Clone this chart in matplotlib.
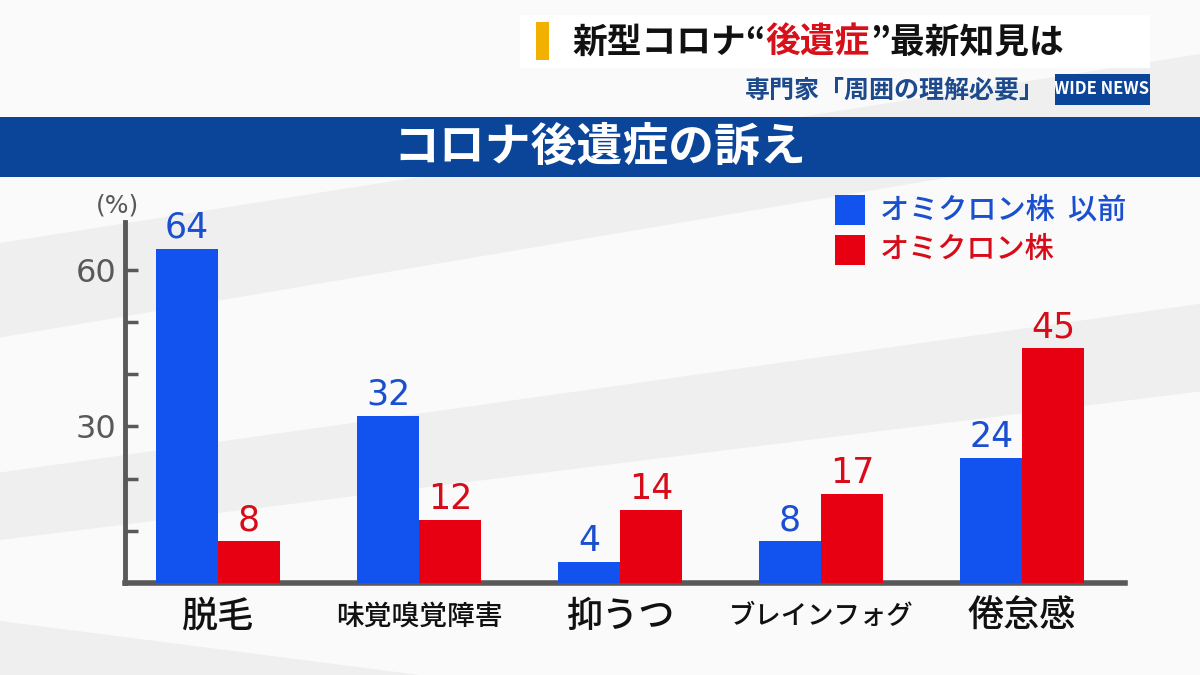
import numpy as np
import matplotlib
matplotlib.use("Agg")
import matplotlib.pyplot as plt
from matplotlib.patches import Rectangle, Polygon

plt.rcParams['font.family'] = ['Noto Sans CJK JP', 'DejaVu Sans']

# data
categories = ["脱毛", "味覚嗅覚障害", "抑うつ", "ブレインフォグ", "倦怠感"]
before_omicron = [64, 32, 4, 8, 24]
omicron = [8, 12, 14, 17, 45]
series_names = ["オミクロン株  以前", "オミクロン株"]
y_ticks_major = [30, 60]

BLUE = "#1252ee"
RED = "#e60012"
BLUE_TXT = "#1a4fd0"
RED_TXT = "#d70c18"
NAVY = "#0b4599"
GRAY = "#595959"

fig = plt.figure(figsize=(12, 6.75), dpi=100)
fig.patch.set_facecolor("#fafafa")

# soft diagonal streaks in the background
streaks = [
    [(0, 0.50), (1, 0.80), (1, 0.92), (0, 0.64)],
    [(0, 0.20), (1, 0.42), (1, 0.55), (0, 0.30)],
    [(0.0, 0.0), (0.35, 0.0), (0, 0.08)],
]
for pts in streaks:
    fig.patches.append(Polygon(pts, closed=True, transform=fig.transFigure,
                               facecolor="#ebebeb", edgecolor="none", alpha=0.7, zorder=-5))

# header box
fig.patches.append(Rectangle((520 / 1200, 1 - 68 / 675), 630 / 1200, 53 / 675,
                             transform=fig.transFigure, facecolor="white", edgecolor="none", zorder=1))
fig.patches.append(Rectangle((536 / 1200, 1 - 60 / 675), 13 / 1200, 38 / 675,
                             transform=fig.transFigure, facecolor="#f2b100", edgecolor="none", zorder=2))
hy = 1 - 42 / 675
t1 = fig.text(572 / 1200, hy, "新型コロナ“", fontsize=25, fontweight="bold", color="#111111",
              va="center", ha="left")
fig.canvas.draw()
r = fig.canvas.get_renderer()
x = t1.get_window_extent(r).x1 / 1200
t2 = fig.text(x, hy, "後遺症", fontsize=25, fontweight="bold", color="#d7101a", va="center", ha="left")
x = t2.get_window_extent(r).x1 / 1200
fig.text(x, hy, "”最新知見は", fontsize=25, fontweight="bold", color="#111111", va="center", ha="left")

fig.text(1045 / 1200, 1 - 90 / 675, "専門家「周囲の理解必要」", fontsize=18, fontweight="bold",
         color="#1d4a8c", va="center", ha="right")
fig.patches.append(Rectangle((1055 / 1200, 1 - 105 / 675), 95 / 1200, 31 / 675,
                             transform=fig.transFigure, facecolor=NAVY, edgecolor="none", zorder=1))
fig.text(1102 / 1200, 1 - 89.5 / 675, "WIDE NEWS", fontsize=12, fontweight="bold", color="white",
         va="center", ha="center", fontstretch="condensed")

# title bar
fig.patches.append(Rectangle((0, 1 - 177 / 675), 1, 60 / 675, transform=fig.transFigure,
                             facecolor=NAVY, edgecolor="none", zorder=1))
fig.text(0.5, 1 - 148 / 675, "コロナ後遺症の訴え", fontsize=33, fontweight="bold", color="white",
         va="center", ha="center")

# chart
ax = fig.add_axes([125 / 1200, 92 / 675, 1000 / 1200, 361 / 675])
ax.set_zorder(5)
ax.set_facecolor("none")
idx = np.arange(len(categories))
w = 0.308
ax.bar(idx - w / 2, before_omicron, w, color=BLUE, zorder=3)
ax.bar(idx + w / 2, omicron, w, color=RED, zorder=3)

for i in idx:
    ax.text(i - w / 2, before_omicron[i] + 0.8, str(before_omicron[i]), ha="center", va="bottom",
            fontsize=25, color=BLUE_TXT, family="DejaVu Sans")
    ax.text(i + w / 2, omicron[i] + 0.8, str(omicron[i]), ha="center", va="bottom",
            fontsize=25, color=RED_TXT, family="DejaVu Sans")

ax.set_xlim(-0.463, 4.512)
ax.set_ylim(0, 69.2)
ax.set_yticks(np.arange(10, 61, 10))
ax.set_yticklabels(["" if v not in y_ticks_major else str(v) for v in range(10, 61, 10)],
                   fontsize=23, color=GRAY, family="DejaVu Sans")
ax.tick_params(axis="y", direction="in", length=9, width=2.5, color=GRAY, pad=6)
ax.set_xticks(idx)
ax.set_xticklabels([])
ax.tick_params(axis="x", length=0)

for s in ["top", "right"]:
    ax.spines[s].set_visible(False)
ax.spines["left"].set_color(GRAY)
ax.spines["left"].set_linewidth(3.5)
ax.spines["bottom"].set_color(GRAY)
ax.spines["bottom"].set_linewidth(4)

# category labels (some are condensed in the original)
label_sizes = [26, 20, 26, 19, 26]
for i, lab in enumerate(categories):
    ax.text(i, -6.5, lab, ha="center", va="center", fontsize=label_sizes[i],
            fontweight="medium", color="#111111")

fig.text(117 / 1200, 1 - 205 / 675, "(%)", fontsize=18, color=GRAY, ha="center", va="center",
         family="DejaVu Sans")

# legend
for k, (name, c, tc) in enumerate(zip(series_names, [BLUE, RED], [BLUE_TXT, RED_TXT])):
    yc = 1 - (210 + 40 * k) / 675
    fig.patches.append(Rectangle((835 / 1200, yc - 15 / 675), 30 / 1200, 30 / 675,
                                 transform=fig.transFigure, facecolor=c, edgecolor="none", zorder=2))
    fig.text(880 / 1200, yc, name, fontsize=21, color=tc, va="center", ha="left",
             fontweight="medium")

fig.savefig("out.png", dpi=100, facecolor=fig.get_facecolor())
